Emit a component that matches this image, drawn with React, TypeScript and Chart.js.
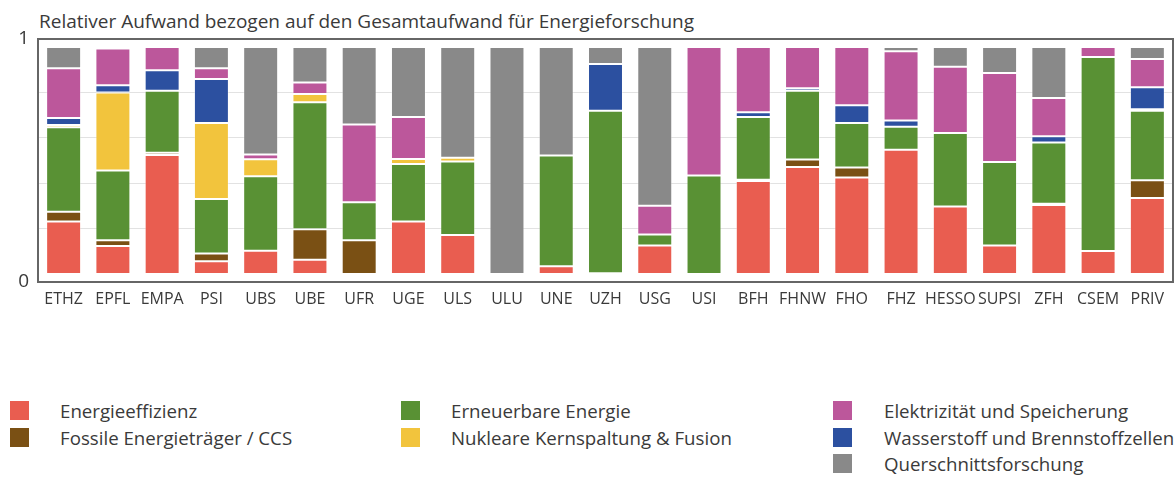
import React, { useEffect, useRef } from "react";
import { Chart, registerables } from "chart.js";

Chart.register(...registerables);

const TITLE = "Relativer Aufwand bezogen auf den Gesamtaufwand für Energieforschung";

const categories = [
  "ETHZ", "EPFL", "EMPA", "PSI", "UBS", "UBE", "UFR", "UGE", "ULS", "ULU", "UNE", "UZH",
  "USG", "USI", "BFH", "FHNW", "FHO", "FHZ", "HESSO", "SUPSI", "ZFH", "CSEM", "PRIV",
];

const energieeffizienz = [0.231, 0.124, 0.524, 0.056, 0.103, 0.063, 0, 0.231, 0.172, 0, 0.034, 0.004, 0.126, 0, 0.41, 0.471, 0.425, 0.547, 0.297, 0.126, 0.304, 0.101, 0.335];
const fossile = [0.043, 0.025, 0.01, 0.034, 0, 0.134, 0.149, 0, 0, 0, 0, 0, 0, 0, 0.005, 0.033, 0.044, 0, 0, 0, 0.006, 0, 0.078];
const erneuerbare = [0.372, 0.307, 0.273, 0.241, 0.328, 0.559, 0.167, 0.254, 0.324, 0, 0.488, 0.715, 0.048, 0.434, 0.276, 0.303, 0.196, 0.102, 0.324, 0.367, 0.269, 0.855, 0.306];
const nuklear = [0.01, 0.343, 0, 0.334, 0.075, 0.037, 0, 0.022, 0.016, 0, 0, 0, 0, 0, 0, 0, 0, 0, 0, 0, 0, 0, 0.007];
const wasserstoff = [0.031, 0.032, 0.09, 0.194, 0, 0, 0, 0, 0, 0, 0, 0.206, 0, 0, 0.022, 0.011, 0.078, 0.027, 0, 0, 0.028, 0, 0.096];
const elektrizitaet = [0.219, 0.162, 0.103, 0.047, 0.02, 0.05, 0.343, 0.184, 0, 0, 0, 0, 0.127, 0.566, 0.287, 0.182, 0.257, 0.305, 0.292, 0.392, 0.168, 0.044, 0.125];
const querschnitt = [0.094, 0.007, 0, 0.094, 0.474, 0.157, 0.341, 0.309, 0.488, 1, 0.478, 0.075, 0.699, 0, 0, 0, 0, 0.019, 0.087, 0.115, 0.225, 0, 0.053];

const Y_MIN = -0.035;
const Y_MAX = 1.035;
const Y_GRID = [0.2, 0.4, 0.6, 0.8];

const series = [
  { label: "Energieeffizienz", data: energieeffizienz, color: "#E95D50" },
  { label: "Fossile Energieträger / CCS", data: fossile, color: "#7A5014" },
  { label: "Erneuerbare Energie", data: erneuerbare, color: "#599134" },
  { label: "Nukleare Kernspaltung & Fusion", data: nuklear, color: "#F2C43D" },
  { label: "Wasserstoff und Brennstoffzellen", data: wasserstoff, color: "#2C50A0" },
  { label: "Elektrizität und Speicherung", data: elektrizitaet, color: "#BC579B" },
  { label: "Querschnittsforschung", data: querschnitt, color: "#898989" },
];

// legend layout: [series index, column, row]
const legendLayout: [number, number, number][] = [
  [0, 0, 0], [1, 0, 1], [2, 1, 0], [3, 1, 1], [5, 2, 0], [4, 2, 1], [6, 2, 2],
];
const legendColX = [10, 401, 833];
const legendTextX = [60, 451, 884];
const legendRowY = [401, 428, 454];

const FONT = "'Open Sans', 'Noto Sans', sans-serif";
const TEXT = "#3a3a3a";

const boxPlugin = {
  id: "plotBox",
  afterDraw(chart: any) {
    const { ctx, chartArea } = chart;
    ctx.save();
    ctx.strokeStyle = "#666666";
    ctx.lineWidth = 2;
    ctx.strokeRect(chartArea.left - 1, chartArea.top, chartArea.right - chartArea.left + 2, chartArea.bottom - chartArea.top);
    ctx.restore();
  },
};

export default function App() {
  const ref = useRef<HTMLCanvasElement | null>(null);

  useEffect(() => {
    if (!ref.current) return;
    const chart = new Chart(ref.current, {
      type: "bar",
      data: {
        labels: categories,
        datasets: series.map((s) => ({
          label: s.label,
          data: s.data,
          backgroundColor: s.color,
          borderColor: "rgba(255,255,255,0.35)",
          borderWidth: (c: any) => (c.raw > 0 ? 1 : 0),
          borderSkipped: false,
          barPercentage: 0.71,
          categoryPercentage: 1,
        })),
      },
      options: {
        animation: false,
        responsive: false,
        layout: { padding: { left: 0, right: 3, top: 39, bottom: 8 } },
        plugins: { legend: { display: false }, tooltip: { enabled: false }, title: { display: false } },
        scales: {
          x: {
            stacked: true,
            grid: { display: false },
            border: { display: false },
            ticks: { color: TEXT, font: { family: FONT, size: 16 }, padding: 0, maxRotation: 0, autoSkip: false },
            afterFit: (s: any) => { s.height = 40; },
          },
          y: {
            stacked: true,
            min: Y_MIN,
            max: Y_MAX,
            border: { display: false },
            afterBuildTicks: (s: any) => {
              s.ticks = [Y_MIN, ...Y_GRID, Y_MAX].map((v) => ({ value: v }));
            },
            afterFit: (s: any) => { s.width = 39; },
            grid: {
              drawTicks: false,
              color: (c: any) => (c.tick && (c.tick.value === Y_MIN || c.tick.value === Y_MAX) ? "rgba(0,0,0,0)" : "#e2e2e2"),
              lineWidth: 1,
            },
            ticks: {
              color: TEXT,
              padding: 10,
              font: { family: FONT, size: 19 },
              callback: (v: any) => (v === Y_MIN ? "0" : v === Y_MAX ? "1" : ""),
            },
          },
        },
      },
      plugins: [boxPlugin],
    });
    return () => chart.destroy();
  }, []);

  return (
    <div style={{ position: "absolute", left: 0, top: 0, width: 1175, height: 483, background: "#fff", fontFamily: FONT, color: TEXT }}>
      <div style={{ position: "absolute", left: 39, top: 11, fontSize: 19, lineHeight: "21px", whiteSpace: "nowrap" }}>{TITLE}</div>
      <canvas ref={ref} width={1175} height={330} style={{ position: "absolute", left: 0, top: 0, width: 1175, height: 330 }} />
      {legendLayout.map(([si, col, row]) => (
        <React.Fragment key={si}>
          <div style={{ position: "absolute", left: legendColX[col], top: legendRowY[row], width: 19, height: 19, background: series[si].color }} />
          <div style={{ position: "absolute", left: legendTextX[col], top: legendRowY[row] - 1, fontSize: 18.7, lineHeight: "21px", whiteSpace: "nowrap" }}>{series[si].label}</div>
        </React.Fragment>
      ))}
    </div>
  );
}
